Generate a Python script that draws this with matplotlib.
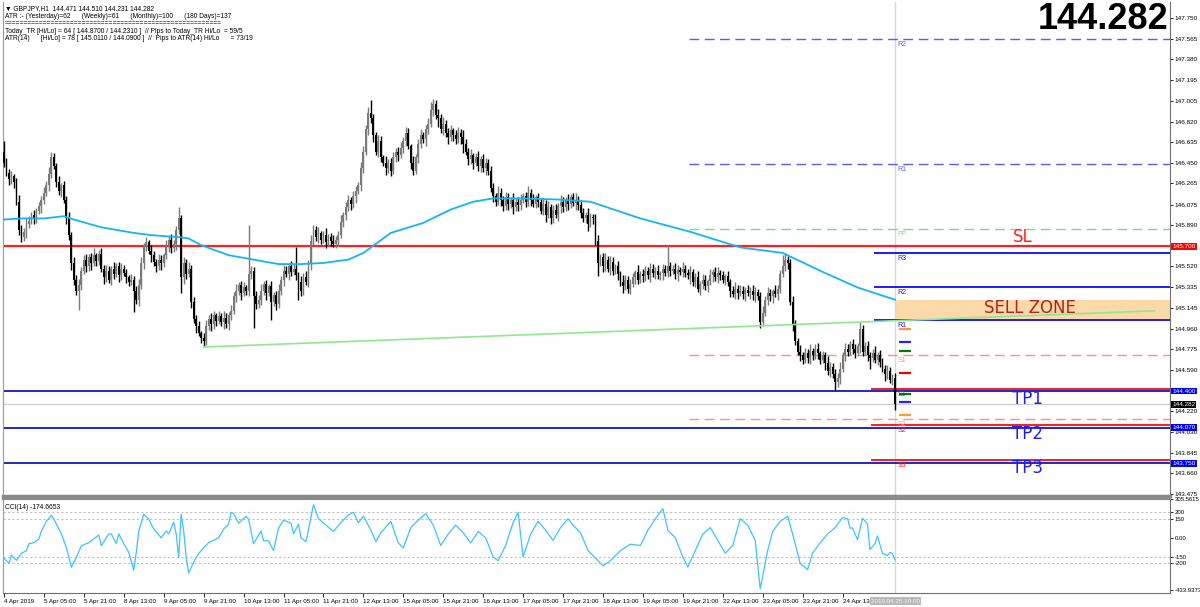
import numpy as np
import matplotlib
matplotlib.use("Agg")
import matplotlib.pyplot as plt
import matplotlib.transforms as mtransforms
from matplotlib.patches import Rectangle

# ---------------- data ----------------
first_open = 146.55
closes = [
    146.45, 146.36, 146.30, 146.33, 146.28, 146.10, 145.85, 145.78, 145.83, 145.90,
    145.93, 145.98, 145.95, 146.02, 146.06, 146.12, 146.18, 146.25, 146.35, 146.50,
    146.42, 146.28, 146.20, 146.25, 146.12, 145.95, 145.80, 145.55, 145.40, 145.30,
    145.35, 145.48, 145.58, 145.52, 145.60, 145.55, 145.62, 145.57, 145.63, 145.50,
    145.42, 145.48, 145.40, 145.50, 145.45, 145.52, 145.44, 145.50, 145.46, 145.42,
    145.38, 145.40, 145.30, 145.22, 145.35, 145.55, 145.70, 145.74, 145.66, 145.62,
    145.56, 145.52, 145.58, 145.55, 145.62, 145.70, 145.76, 145.68, 145.72, 145.85,
    145.95, 145.42, 145.55, 145.45, 145.50, 145.20, 145.05, 144.98, 144.92, 144.88,
    144.85, 144.98, 145.05, 145.00, 145.08, 145.03, 145.07, 145.02, 145.06, 145.00,
    145.08, 145.12, 145.25, 145.30, 145.35, 145.28, 145.33, 145.30, 145.45, 145.48,
    145.25, 145.18, 145.22, 145.30, 145.36, 145.28, 145.34, 145.20, 145.26, 145.18,
    145.30, 145.40, 145.48, 145.45, 145.52, 145.47, 145.50, 145.44, 145.38, 145.30,
    145.42, 145.38, 145.55, 145.75, 145.85, 145.78, 145.82, 145.76, 145.80, 145.74,
    145.78, 145.75, 145.72, 145.76, 145.80, 145.92, 145.98, 146.05, 146.12, 146.08,
    146.15, 146.20, 146.25, 146.40, 146.55, 146.75, 146.90, 146.85, 146.70, 146.55,
    146.65, 146.50, 146.45, 146.40, 146.45, 146.38, 146.50, 146.55, 146.52, 146.58,
    146.65, 146.72, 146.60, 146.45, 146.38, 146.50, 146.62, 146.70, 146.66, 146.75,
    146.80, 146.92, 146.98, 146.88, 146.85, 146.75, 146.80, 146.72, 146.68, 146.74,
    146.70, 146.66, 146.72, 146.68, 146.62, 146.55, 146.48, 146.52, 146.45, 146.50,
    146.42, 146.48, 146.40, 146.45, 146.38, 146.22, 146.15, 146.10, 146.18, 146.12,
    146.06, 146.14, 146.08, 146.12, 146.05, 146.10, 146.07, 146.12, 146.15, 146.10,
    146.18, 146.12, 146.08, 146.14, 146.10, 146.02, 146.08, 145.98, 146.05, 145.95,
    146.03, 145.98, 146.06, 146.10, 146.05, 146.12, 146.08, 146.14, 146.09, 146.12,
    146.07, 146.00, 145.95, 145.98, 145.90, 145.96, 145.95, 145.75, 145.55, 145.60,
    145.52, 145.58, 145.50, 145.56, 145.48, 145.52, 145.45, 145.38, 145.34, 145.40,
    145.32, 145.36, 145.42, 145.47, 145.40, 145.45, 145.43, 145.48, 145.44, 145.50,
    145.46, 145.48, 145.44, 145.46, 145.50, 145.46, 145.52, 145.48, 145.50, 145.45,
    145.49, 145.47, 145.50, 145.46, 145.44, 145.47, 145.38, 145.42, 145.32, 145.36,
    145.40, 145.34, 145.39, 145.44, 145.47, 145.42, 145.46, 145.44, 145.40, 145.43,
    145.38, 145.30, 145.27, 145.32, 145.28, 145.30, 145.27, 145.31, 145.28, 145.30,
    145.26, 145.29, 145.25, 145.02, 145.10, 145.22, 145.28, 145.25, 145.30, 145.27,
    145.32, 145.45, 145.52, 145.58, 145.55, 145.20, 145.00, 144.85, 144.75, 144.72,
    144.68, 144.74, 144.70, 144.76, 144.72, 144.78, 144.74, 144.68, 144.72, 144.65,
    144.58, 144.62, 144.55, 144.48, 144.52, 144.60, 144.72, 144.78, 144.75, 144.82,
    144.78, 144.74, 144.80, 144.96, 144.75, 144.80, 144.72, 144.70, 144.74, 144.68,
    144.72, 144.66, 144.60, 144.55, 144.58, 144.50, 144.52, 144.282,
]
# wick lengths in pips above / below the body
wick_up = [
    10, 4, 3, 5, 2, 3, 6, 4, 3, 5, 4, 3, 5, 2, 4, 3, 5, 4, 6, 5,
    4, 3, 5, 2, 4, 3, 6, 3, 5, 4, 6, 3, 4, 5, 3, 4, 6, 2, 4, 5,
    3, 5, 4, 2, 6, 3, 4, 5, 3, 4, 2, 5, 3, 4, 6, 5, 3, 4, 2, 5,
    4, 3, 5, 4, 2, 6, 3, 5, 4, 3, 10, 3, 5, 4, 6, 3, 4, 3, 5, 2,
    4, 6, 3, 5, 4, 2, 5, 3, 6, 4, 3, 5, 4, 6, 3, 4, 5, 2, 44, 4,
    3, 5, 4, 6, 3, 4, 2, 5, 3, 4, 6, 3, 5, 4, 3, 5, 4, 19, 3, 5,
    4, 6, 3, 5, 4, 3, 5, 2, 4, 6, 3, 4, 5, 3, 4, 6, 3, 5, 4, 2,
    5, 4, 3, 6, 5, 4, 5, 11, 4, 3, 5, 4, 2, 6, 3, 4, 5, 3, 4, 6,
    3, 5, 4, 2, 6, 3, 4, 5, 3, 4, 5, 8, 4, 3, 5, 4, 6, 3, 4, 5,
    2, 4, 5, 3, 6, 4, 3, 5, 2, 4, 6, 3, 5, 4, 3, 4, 5, 3, 6, 4,
    3, 5, 4, 2, 6, 3, 4, 5, 3, 4, 6, 3, 5, 2, 4, 3, 5, 4, 6, 3,
    4, 5, 3, 6, 4, 2, 5, 3, 4, 6, 3, 5, 4, 3, 6, 4, 3, 4, 5, 3,
    4, 6, 3, 5, 4, 2, 5, 3, 6, 4, 3, 5, 4, 2, 6, 3, 5, 4, 3, 5,
    4, 3, 5, 2, 4, 3, 19, 4, 3, 5, 4, 2, 6, 3, 4, 5, 3, 4, 6, 3,
    5, 4, 2, 6, 3, 4, 5, 3, 4, 2, 5, 3, 4, 6, 3, 5, 4, 2, 4, 3,
    5, 4, 3, 4, 6, 3, 5, 4, 2, 5, 3, 4, 10, 6, 3, 4, 5, 4, 3, 6,
    3, 5, 4, 6, 3, 4, 5, 2, 4, 3, 6, 4, 3, 5, 4, 6, 3, 5, 4, 3,
    5, 4, 3, 6, 3, 4, 5, 3, 4, 6, 3, 5, 4, 3, 5, 4, 3, 4,
]
wick_dn = [
    4, 3, 5, 4, 6, 3, 5, 4, 3, 6, 4, 3, 5, 4, 3, 6, 4, 3, 5, 4,
    3, 5, 4, 6, 3, 5, 4, 6, 5, 4, 17, 4, 3, 5, 4, 6, 3, 5, 4, 3,
    6, 4, 3, 5, 4, 3, 6, 4, 3, 5, 4, 3, 19, 4, 6, 3, 5, 4, 3, 6,
    4, 5, 3, 6, 4, 3, 5, 4, 3, 5, 4, 14, 6, 4, 3, 5, 4, 6, 3, 5,
    5, 4, 3, 6, 4, 5, 3, 4, 6, 3, 5, 4, 3, 5, 4, 6, 3, 4, 5, 4,
    28, 4, 3, 5, 4, 6, 3, 16, 4, 5, 3, 4, 6, 3, 5, 4, 3, 4, 16, 5,
    4, 3, 5, 6, 4, 3, 5, 4, 3, 6, 4, 5, 3, 4, 6, 3, 5, 4, 3, 5,
    4, 6, 3, 5, 4, 3, 5, 4, 6, 3, 5, 4, 3, 6, 4, 5, 3, 4, 5, 3,
    4, 5, 3, 6, 4, 3, 5, 4, 3, 6, 4, 3, 5, 4, 8, 3, 5, 4, 6, 3,
    5, 4, 3, 6, 8, 3, 5, 4, 6, 3, 4, 5, 3, 6, 4, 3, 5, 4, 3, 6,
    4, 3, 5, 4, 6, 3, 5, 4, 3, 5, 4, 6, 3, 4, 5, 3, 4, 6, 3, 5,
    4, 3, 5, 6, 4, 3, 5, 4, 3, 6, 4, 5, 3, 4, 6, 3, 5, 4, 12, 3,
    5, 4, 3, 6, 4, 3, 5, 4, 6, 3, 4, 5, 3, 6, 4, 3, 5, 4, 3, 6,
    4, 5, 3, 4, 6, 3, 4, 5, 3, 4, 6, 3, 5, 4, 3, 8, 4, 5, 3, 6,
    4, 3, 5, 4, 6, 3, 5, 4, 3, 5, 4, 6, 3, 4, 5, 3, 4, 6, 3, 5,
    4, 6, 3, 5, 4, 3, 5, 4, 6, 3, 5, 4, 3, 4, 5, 3, 6, 4, 3, 5,
    4, 3, 5, 6, 4, 3, 5, 4, 3, 6, 4, 5, 3, 7, 4, 6, 3, 5, 4, 3,
    5, 4, 3, 6, 4, 3, 5, 10, 4, 3, 5, 4, 3, 6, 4, 3, 5, 5,
]

# 200 period moving average (bar index, price)
ma_idx = [0, 7, 16, 24, 28, 39, 52, 59, 71, 74, 79, 90, 100, 110, 119, 128, 138, 144,
          155, 168, 179, 188, 196, 208, 222, 235, 255, 275, 295, 312, 328, 342, 357]
ma_val = [145.94, 145.95, 145.95, 145.97, 145.94, 145.87, 145.82, 145.80, 145.78, 145.77,
          145.71, 145.62, 145.58, 145.54, 145.54, 145.55, 145.58, 145.64, 145.82, 145.91,
          146.03, 146.10, 146.13, 146.13, 146.12, 146.10, 145.95, 145.83, 145.69, 145.64,
          145.47, 145.33, 145.22]

# CCI(14) (bar index, value)
cci_idx = [0, 2, 3, 5, 7, 9, 10, 12, 14, 15, 17, 19, 20, 23, 25, 27, 29, 31, 34, 36, 38,
           39, 42, 43, 45, 46, 48, 50, 52, 53, 54, 56, 58, 60, 63, 65, 66, 68, 69, 70, 71,
           72, 73, 74, 76, 78, 80, 82, 86, 88, 90, 91, 92, 94, 97, 98, 100, 103, 104, 106,
           108, 110, 112, 115, 116, 118, 119, 121, 124, 126, 129, 132, 135, 138, 140, 142,
           144, 147, 149, 151, 155, 158, 160, 163, 166, 169, 172, 175, 178, 181, 184, 187,
           190, 193, 196, 198, 201, 204, 206, 208, 211, 214, 217, 220, 223, 226, 228, 231,
           234, 237, 240, 243, 247, 251, 255, 258, 261, 264, 266, 269, 272, 274, 277, 280,
           283, 286, 289, 292, 295, 298, 301, 303, 306, 308, 311, 314, 316, 319, 322, 324,
           327, 330, 333, 336, 338, 339, 340, 342, 344, 346, 347, 349, 350, 352, 354, 355,
           356, 357]
cci_val = [-161, -200, -138, -177, -123, -100, -46, -38, -8, 54, 131, 177, 146, 31, -77,
           -231, -154, -62, -38, -8, 23, -62, 31, 31, -46, 31, -46, -115, -254, -115, 54,
           185, 146, 69, 0, 54, 31, 123, 31, -154, 185, 54, -154, -277, -192, -123, -77,
           -38, 0, 69, 108, 200, 192, 115, 169, 146, -46, 54, -23, -23, -100, 77, 138, 115,
           31, 108, 0, -30, 260, 150, 100, 50, 120, 180, 200, 120, 170, 60, -30, 40, 130,
           -40, -80, 80, 140, 190, 100, -60, 30, 100, 40, -40, 50, 0, -150, -180, -60, 120,
           200, -150, 30, 130, 60, -20, 80, 150, 100, 40, -100, -160, -220, -180, -100,
           -50, -60, 60, 150, 230, 60, 0, -150, -230, -100, 30, 80, -20, -120, -60, 150,
           100, -20, -400, -100, 50, 130, 170, 30, -200, -250, -120, -40, 30, 80, 160, 150,
           77, 77, -15, 154, 108, -92, -46, 15, -123, -138, -115, -123, -174.67]

time_labels = ["4 Apr 2019", "5 Apr 05:00", "5 Apr 21:00", "8 Apr 13:00", "9 Apr 05:00",
               "9 Apr 21:00", "10 Apr 13:00", "11 Apr 05:00", "11 Apr 21:00", "12 Apr 13:00",
               "15 Apr 05:00", "15 Apr 21:00", "16 Apr 13:00", "17 Apr 05:00", "17 Apr 21:00",
               "18 Apr 13:00", "19 Apr 05:00", "19 Apr 21:00", "22 Apr 13:00", "23 Apr 05:00",
               "23 Apr 21:00", "24 Apr 13:00"]

price_ticks = [147.750, 147.565, 147.380, 147.195, 147.005, 146.820, 146.635, 146.450,
               146.265, 146.075, 145.890, 145.520, 145.335, 145.145, 144.960, 144.775,
               144.590, 144.220, 144.030, 143.845, 143.660, 143.475]

# daily pivots (dashed) and second pivot set (solid)
piv_dash = {"R2": 147.565, "R1": 146.443, "PP": 145.855, "S1": 144.724, "S2": 144.150}
piv_solid = {"R3": 145.640, "R2": 145.334, "R1": 145.040,
             "S1": 144.418, "S2": 144.094, "S3": 143.780}
marker_levels = [144.957, 144.840, 144.760, 144.562, 144.373, 144.300, 144.185]
marker_colors = ["#ff9a2e", "#2323ff", "#008000", "#ff0000", "#008000", "#2323ff", "#ff9a2e"]

sl_level = 145.700
tp_levels = [144.400, 144.070, 143.750]
last_price = 144.282
zone_lo, zone_hi = 145.038, 145.217
trend_idx = [80, 461]
trend_val = [144.795, 145.120]

header = ["\u25bc GBPJPY,H1  144.471 144.510 144.231 144.282",
          "ATR :- (Yesterday)=62      (Weekly)=61      (Monthly)=100      (180 Days)=137",
          "=" * 56,
          "Today_TR [Hi/Lo] = 64 [ 144.8700 / 144.2310 ]  // Pips to Today_TR Hi/Lo  = 59/5",
          "ATR(14)      [Hi/Lo] = 78 [ 145.0110 / 144.0900 ]  //  Pips to ATR(14) Hi/Lo      = 73/19"]

# ---------------- figure ----------------
plt.rcParams['font.family'] = ['Liberation Sans', 'DejaVu Sans']
fig = plt.figure(figsize=(12, 6.07), dpi=100)
W, H = 1200, 607
ax = fig.add_axes([3 / W, 1 - 496 / H, 1167 / W, 494 / H])
cx = fig.add_axes([3 / W, 1 - 593 / H, 1167 / W, 94 / H])

n = len(closes)
idx = np.arange(n)
c = np.array(closes)
o = np.concatenate([[first_open], c[:-1]])
hi = np.maximum(o, c) + np.array(wick_up) / 100
lo = np.minimum(o, c) - np.array(wick_dn) / 100
bull = c >= o

xmin, xmax = -0.4, 467.2
for a in (ax, cx):
    a.set_xlim(xmin, xmax)
    a.set_facecolor("white")

# candles
cols = np.where(bull, "#7a7a7a", "#000000")
ax.vlines(idx, lo, hi, colors=cols, lw=1.0, zorder=3)
ax.bar(idx, np.maximum(np.abs(c - o), 0.008), bottom=np.minimum(o, c), width=0.75,
       color=cols, zorder=3, linewidth=0)

ax.set_ylim(143.457, 147.894)

# sell zone
ax.add_patch(Rectangle((357.2, zone_lo), xmax - 357.2, zone_hi - zone_lo,
                       facecolor="#fbd9a8", edgecolor="none", zorder=1))

# moving average and trend line
ax.plot(ma_idx, ma_val, color="#14b4f5", lw=1.3, zorder=4)
ax.plot(trend_idx, trend_val, color="#8fe88f", lw=1.2, zorder=4)

# full-width levels
ax.axhline(last_price, color="#cfcfcf", lw=0.9, zorder=2)
ax.axhline(sl_level, color="#ff2020", lw=1.6, zorder=2)
for tp in tp_levels:
    ax.axhline(tp, color="#0000c0", lw=1.2, zorder=2)

# pivots
dash_cols = {"R2": "#5a5aff", "R1": "#5a5aff", "PP": "#86cfa8", "S1": "#ff8c8c", "S2": "#ff8c8c"}
for k, v in piv_dash.items():
    ax.hlines(v, 274.4, xmax, colors=dash_cols[k], lw=1.0, linestyles=(0, (7, 4)), zorder=2)
    ax.text(358, v - 0.02, k, color=dash_cols[k], fontsize=5, ha="left", va="top", zorder=5)
for k, v in piv_solid.items():
    col = "#1c1cff" if k.startswith("R") else "#ff1a1a"
    x0 = 348.4 if k.startswith("R") else 347.2
    ax.hlines(v, x0, xmax, colors=col, lw=1.4, zorder=2)
    ax.text(358, v - 0.02, k, color=col, fontsize=5, ha="left", va="top", zorder=5)

for v, col in zip(marker_levels, marker_colors):
    ax.hlines(v, 358.8, 363.6, colors=col, lw=1.6, zorder=5)

# crosshair
ax.axvline(357.2, color="#d8d8d8", lw=1.0, zorder=1)
cx.axvline(357.2, color="#d8d8d8", lw=1.0, zorder=1)

# annotations
ax.text(408, 145.783, "SL", color="#ff2020", fontsize=12, family="DejaVu Sans",
        ha="center", va="center", zorder=6)
ax.text(411, 145.150, "SELL ZONE", color="#b52020", fontsize=12, family="DejaVu Sans",
        ha="center", va="center", zorder=6)
for lab, y in zip(["TP1", "TP2", "TP3"], [144.330, 144.010, 143.705]):
    ax.text(410, y, lab, color="#1c1cff", fontsize=12, family="DejaVu Sans",
            ha="center", va="center", zorder=6)

ax.text(0.9985, 0.965, "144.282", transform=ax.transAxes, fontsize=26, fontweight="bold",
        ha="right", va="center", color="black", zorder=7)

for k, line in enumerate(header):
    ax.text(2 / 1167, 1 - (3 + 7.6 * k) / 494, line, transform=ax.transAxes, fontsize=4.8,
            ha="left", va="top", color="black", zorder=7)

# price axis
ax.yaxis.tick_right()
ax.set_yticks(price_ticks)
ax.set_yticklabels([f"{t:.3f}" for t in price_ticks])
ax.tick_params(axis="y", labelsize=4.6, length=2, pad=1.5, width=0.6)
ax.set_xticks([])
trans = mtransforms.blended_transform_factory(ax.transAxes, ax.transData)
for v, fc in [(sl_level, "#ff0000"), (tp_levels[0], "#0000ff"), (last_price, "#000000"),
              (tp_levels[1], "#0000ff"), (tp_levels[2], "#0000ff")]:
    ax.text(1.002, v, f"{v:.3f}", transform=trans, fontsize=4.6, color="white", ha="left",
            va="center", bbox=dict(boxstyle="square,pad=0.15", fc=fc, ec="none"), clip_on=False, zorder=8)

ax.spines["top"].set_visible(False)
ax.spines["left"].set_color("#9a9a9a")
ax.spines["right"].set_color("#707070")
ax.spines["bottom"].set_color("#8a8a8a")
ax.spines["bottom"].set_linewidth(2.5)

# CCI panel
cci_lo, cci_hi = -433.9373, 305.5615
cx.set_ylim(cci_lo, cci_hi)
for lvl in (200, 150, -150, -200):
    cx.axhline(lvl, color="#c0c0c0", lw=0.8, ls=(0, (2, 2)), zorder=1)
cx.plot(cci_idx, cci_val, color="#3cc3ff", lw=0.9, zorder=3)
cx.text(2 / 1167, 0.95, "CCI(14) -174.6653", transform=cx.transAxes, fontsize=4.8,
        ha="left", va="top")
cx.yaxis.tick_right()
cx.set_yticks([cci_hi, 200, 150, 0, -150, -200, cci_lo + 25])
cx.set_yticklabels(["305.5615", "200", "150", "0.00", "-150", "-200", "-433.9373"])
cx.tick_params(axis="y", labelsize=4.3, length=2, pad=1.2, width=0.6)
cx.set_xticks(np.arange(len(time_labels)) * 16)
cx.set_xticklabels(time_labels, ha="left", fontsize=4.5)
cx.tick_params(axis="x", length=3, pad=1, width=0.6, direction="out")
cx.spines["top"].set_color("#8a8a8a")
cx.spines["top"].set_linewidth(1.5)
cx.spines["left"].set_color("#9a9a9a")
cx.spines["right"].set_color("#707070")
cx.spines["bottom"].set_color("#707070")
cx.text(357.2, -0.06, "2019.04.25 10:00",
        transform=mtransforms.blended_transform_factory(cx.transData, cx.transAxes),
        fontsize=4.5, color="#f4f4f4", ha="center", va="top",
        bbox=dict(boxstyle="square,pad=0.2", fc="#b8b8b8", ec="none"), clip_on=False, zorder=8)

fig.savefig("out.png", dpi=100, facecolor="white")
